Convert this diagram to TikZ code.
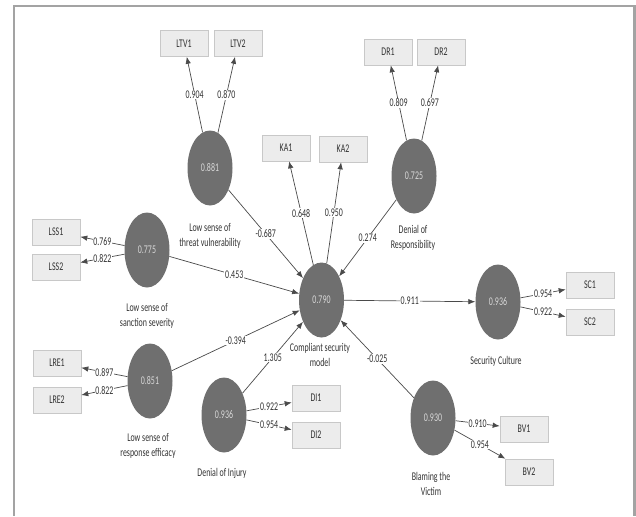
\documentclass[tikz,border=0pt]{standalone}
\usepackage{fontspec}
\setmainfont{Carlito}[FakeStretch=0.67]
\usetikzlibrary{shapes.geometric,arrows.meta}
\definecolor{lvfill}{HTML}{6F6F6F}
\definecolor{lvtext}{HTML}{D8D8D8}
\definecolor{boxfill}{HTML}{ECECEC}
\definecolor{boxline}{HTML}{C8C8C8}
\definecolor{linecol}{HTML}{4A4A4A}
\definecolor{framecol}{HTML}{A3A3A3}
\definecolor{txtcol}{HTML}{333333}
\tikzset{
  lv/.style={ellipse, fill=lvfill, minimum width=45pt, minimum height=75pt, inner sep=0pt, text=lvtext, font=\fontsize{11.8}{13}\selectfont},
  ind/.style={rectangle, fill=boxfill, draw=boxline, line width=0.6pt, minimum width=48pt, minimum height=26pt, inner sep=0pt, text=txtcol, font=\fontsize{11.8}{13}\selectfont},
  lvlabel/.style={align=center, text=txtcol, font=\fontsize{11.8}{15}\selectfont, inner sep=0pt},
  conn/.style={draw=linecol, line width=0.7pt, -{Latex[length=7pt,width=5.5pt]}},
  lbl/.style={fill=white, inner sep=0.8pt, text=txtcol, font=\fontsize{11.8}{13}\selectfont, midway}
}
\begin{document}
\begin{tikzpicture}[x=1pt,y=-1pt]
\useasboundingbox (0,0) rectangle (636,516);
\draw[framecol, line width=2.3pt] (14,516) -- (14,6) -- (634.5,6) -- (634.5,516);

% latent variables
\node[lv] (LTV) at (210,168) {0.881};
\node[lv] (LSS) at (147,250) {0.775};
\node[lv] (DR)  at (414,176) {0.725};
\node[lv] (CSM) at (321.5,300) {0.790};
\node[lv] (LRE) at (150,381) {0.851};
\node[lv] (DI)  at (224,415) {0.936};
\node[lv] (SC)  at (498,302) {0.936};
\node[lv] (BV)  at (433,418) {0.930};

% labels under latent variables
\node[lvlabel] (LTVt) at (210,236) {Low sense of\\threat vulnerability};
\node[lvlabel] (LSSt) at (147,316) {Low sense of\\sanction severity};
\node[lvlabel] (DRt)  at (413,238) {Denial of\\Responsibility};
\node[lvlabel] (CSMt) at (320,355) {Compliant security\\model};
\node[lvlabel] (LREt) at (148,446) {Low sense of\\response efficacy};
\node[lvlabel] (DIt)  at (222,473) {Denial of Injury};
\node[lvlabel] (SCt)  at (496,361) {Security Culture};
\node[lvlabel] (BVt)  at (431,484) {Blaming the\\Victim};

% indicators
\node[ind] (LTV1) at (184,43.5) {LTV1};
\node[ind] (LTV2) at (238,43.5) {LTV2};
\node[ind] (KA1)  at (286,148) {KA1};
\node[ind] (KA2)  at (343,149) {KA2};
\node[ind] (DR1)  at (388,52) {DR1};
\node[ind] (DR2)  at (441,52) {DR2};
\node[ind] (LSS1) at (56,232) {LSS1};
\node[ind] (LSS2) at (56,267) {LSS2};
\node[ind] (LRE1) at (57,363) {LRE1};
\node[ind] (LRE2) at (57,400) {LRE2};
\node[ind] (DI1)  at (316,398) {DI1};
\node[ind] (DI2)  at (316,435) {DI2};
\node[ind] (SC1)  at (590,285) {SC1};
\node[ind] (SC2)  at (590,322) {SC2};
\node[ind] (BV1)  at (524,429) {BV1};
\node[ind] (BV2)  at (529,472) {BV2};

% outer model
\draw[conn] (LTV) -- (LTV1) node[lbl] {0.904};
\draw[conn] (LTV) -- (LTV2) node[lbl] {0.870};
\draw[conn] (DR) -- (DR1) node[lbl] {0.809};
\draw[conn] (DR) -- (DR2) node[lbl] {0.697};
\draw[conn] (CSM) -- (KA1) node[lbl] {0.648};
\draw[conn] (CSM) -- (KA2) node[lbl] {0.950};
\draw[conn] (LSS) -- (LSS1) node[lbl] {0.769};
\draw[conn] (LSS) -- (LSS2) node[lbl] {0.822};
\draw[conn] (LRE) -- (LRE1) node[lbl] {0.897};
\draw[conn] (LRE) -- (LRE2) node[lbl] {0.822};
\draw[conn] (DI) -- (DI1) node[lbl] {0.922};
\draw[conn] (DI) -- (DI2) node[lbl] {0.954};
\draw[conn] (SC) -- (SC1) node[lbl] {0.954};
\draw[conn] (SC) -- (SC2) node[lbl] {0.922};
\draw[conn] (BV) -- (BV1) node[lbl] {0.910};
\draw[conn] (BV) -- (BV2) node[lbl] {0.954};

% inner model
\draw[conn] (LTV) -- (CSM) node[lbl] {-0.687};
\draw[conn] (DR) -- (CSM) node[lbl] {0.274};
\draw[conn] (LSS) -- (CSM) node[lbl] {0.453};
\draw[conn] (LRE) -- (CSM) node[lbl] {-0.394};
\draw[conn] (DI) -- (CSM) node[lbl] {1.305};
\draw[conn] (BV) -- (CSM) node[lbl] {-0.025};
\draw[conn] (CSM) -- (SC) node[lbl] {0.911};
\end{tikzpicture}
\end{document}
